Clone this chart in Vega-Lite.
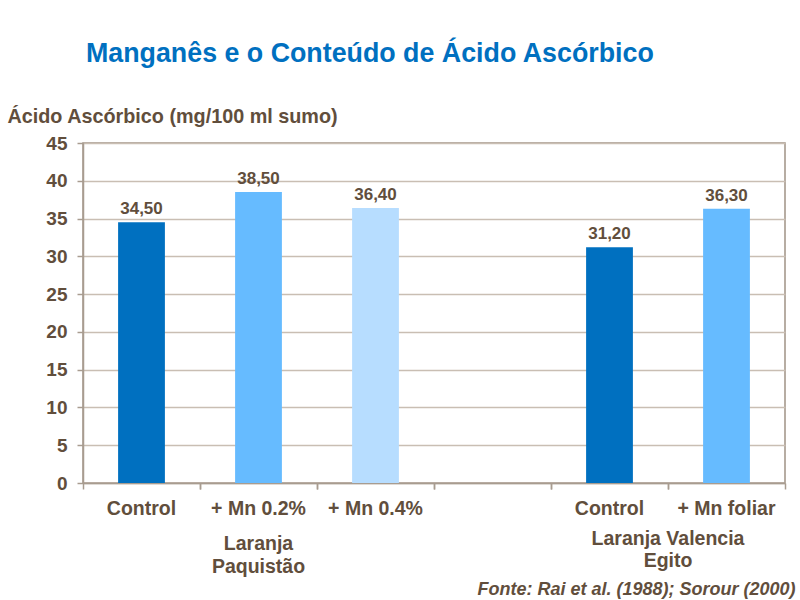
{
  "$schema": "https://vega.github.io/schema/vega-lite/v6.json",
  "autosize": {"type": "none"},
  "width": 702,
  "height": 340,
  "padding": {"left": 83, "top": 143, "right": 15, "bottom": 117},
  "background": "#ffffff",
  "title": {
    "text": "Manganês e o Conteúdo de Ácido Ascórbico",
    "anchor": "start",
    "frame": "group",
    "dx": 3,
    "offset": 17,
    "baseline": "alphabetic",
    "font": "Liberation Sans",
    "fontSize": 26.8,
    "fontWeight": "bold",
    "color": "#0070C0"
  },
  "config": {
    "locale": {"number": {"decimal": ",", "thousands": ".", "grouping": [3], "currency": ["", " €"]}},
    "font": "Liberation Sans",
    "view": {"stroke": "#A09385", "strokeWidth": 1.5},
    "axis": {
      "labelFont": "Liberation Sans",
      "labelFontWeight": "bold",
      "labelColor": "#614E3C",
      "titleFont": "Liberation Sans",
      "titleColor": "#614E3C",
      "domainColor": "#A89C90",
      "domainWidth": 1.5,
      "tickColor": "#A89C90",
      "tickWidth": 1.5
    }
  },
  "resolve": {"axis": {"x": "independent", "y": "independent"}},
  "layer": [
    {
      "data": {
        "values": [
          {"slot": "P|Control", "valor": 34.5},
          {"slot": "P|+ Mn 0.2%", "valor": 38.5},
          {"slot": "P|+ Mn 0.4%", "valor": 36.4},
          {"slot": "V|Control", "valor": 31.2},
          {"slot": "V|+ Mn foliar", "valor": 36.3}
        ]
      },
      "encoding": {
        "x": {
          "field": "slot",
          "type": "nominal",
          "sort": null,
          "scale": {
            "domain": ["P|Control", "P|+ Mn 0.2%", "P|+ Mn 0.4%", "gap|", "V|Control", "V|+ Mn foliar"],
            "paddingInner": 0,
            "paddingOuter": 0
          },
          "axis": {
            "orient": "bottom",
            "labelExpr": "split(datum.value, '|')[1]",
            "labelAngle": 0,
            "labelFontSize": 19.5,
            "labelBaseline": "alphabetic",
            "labelPadding": 31,
            "ticks": false,
            "tickSize": 0,
            "domain": true,
            "grid": false,
            "title": "Fonte: Rai et al. (1988); Sorour (2000)",
            "titleFontSize": 18,
            "titleFontStyle": "italic",
            "titleFontWeight": "bold",
            "titleAlign": "right",
            "titleAnchor": "end",
            "titleBaseline": "alphabetic",
            "titleX": 712,
            "titleY": 111
          }
        },
        "y": {
          "field": "valor",
          "type": "quantitative",
          "scale": {"domain": [0, 45], "nice": false},
          "axis": {
            "orient": "left",
            "values": [0, 5, 10, 15, 20, 25, 30, 35, 40, 45],
            "labelFontSize": 19,
            "labelPadding": 10,
            "tickSize": 6,
            "grid": true,
            "gridColor": "#C9BEB3",
            "gridWidth": 1.5,
            "title": "Ácido Ascórbico (mg/100 ml sumo)",
            "titleFontSize": 19.8,
            "titleFontWeight": "bold",
            "titleAngle": 0,
            "titleAlign": "left",
            "titleBaseline": "alphabetic",
            "titleX": -76,
            "titleY": -21
          }
        }
      },
      "layer": [
        {
          "mark": {"type": "bar", "width": {"band": 0.4}},
          "encoding": {
            "color": {
              "field": "slot",
              "type": "nominal",
              "scale": {
                "domain": ["P|Control", "P|+ Mn 0.2%", "P|+ Mn 0.4%", "V|Control", "V|+ Mn foliar"],
                "range": ["#0070C0", "#66BBFF", "#B7DDFF", "#0070C0", "#66BBFF"]
              },
              "legend": null
            }
          }
        },
        {
          "mark": {"type": "text", "baseline": "alphabetic", "dy": -8, "fontSize": 17, "fontWeight": "bold", "color": "#614E3C"},
          "encoding": {
            "text": {"field": "valor", "type": "quantitative", "format": ".2f"}
          }
        }
      ]
    },
    {
      "data": {"values": [{"slot": "P|+ Mn 0.2%", "grupo": "Laranja\nPaquistão"}]},
      "mark": {"type": "text", "lineBreak": "\n", "lineHeight": 23, "baseline": "alphabetic", "align": "center", "dy": 67, "fontSize": 19.5, "fontWeight": "bold", "color": "#614E3C"},
      "encoding": {
        "x": {
          "field": "slot",
          "type": "nominal",
          "bandPosition": 0.5,
          "axis": {
            "orient": "bottom",
            "bandPosition": 0,
            "labels": false,
            "domain": false,
            "grid": false,
            "ticks": true,
            "tickSize": 6,
            "title": null
          }
        },
        "y": {"datum": 0, "type": "quantitative", "axis": null},
        "text": {"field": "grupo"}
      }
    },
    {
      "data": {"values": [{"slot": "V|+ Mn foliar", "grupo": "Laranja Valencia\nEgito"}]},
      "mark": {"type": "text", "lineBreak": "\n", "lineHeight": 22, "baseline": "alphabetic", "align": "center", "dy": 62, "fontSize": 19.5, "fontWeight": "bold", "color": "#614E3C"},
      "encoding": {
        "x": {
          "field": "slot",
          "type": "nominal",
          "bandPosition": 0,
          "axis": {
            "orient": "bottom",
            "bandPosition": 1,
            "labels": false,
            "domain": false,
            "grid": false,
            "ticks": true,
            "tickSize": 6,
            "title": null
          }
        },
        "y": {"datum": 0, "type": "quantitative", "axis": null},
        "text": {"field": "grupo"}
      }
    }
  ]
}
